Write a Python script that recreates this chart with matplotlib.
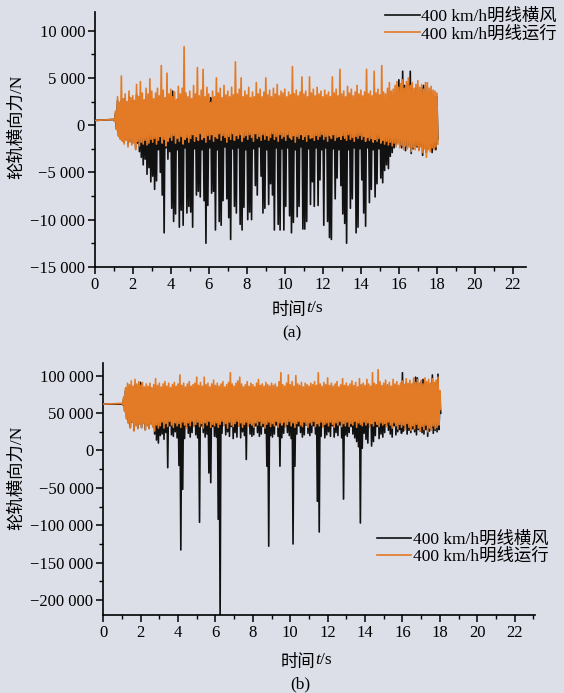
import numpy as np
import matplotlib
matplotlib.use('Agg')
import matplotlib.pyplot as plt
from matplotlib.ticker import MultipleLocator, FuncFormatter

plt.rcParams['font.family'] = ['Liberation Serif', 'Noto Sans CJK SC']
plt.rcParams['axes.unicode_minus'] = True

# sample times: t=0, then 1.0 ... 18.0 s every 0.1 s
t_start = [0.0]
t_run = np.round(np.arange(1.0, 18.05, 0.1), 1)
t = np.concatenate([t_start, t_run])

labels = ['400 km/h明线横风', '400 km/h明线运行']

# ---- (a) envelope values, N ----
run_hi_a = [500,
    600, 1500, 3000, 2400, 5200, 2800, 3300, 2500, 3600, 2900,
    3100, 2600, 4300, 3000, 4600, 3400, 2700, 3900, 3300, 4900,
    3600, 2800, 3400, 3900, 3100, 6300, 3700, 2900, 5500, 3300,
    3800, 3000, 3500, 2700, 4100, 3300, 3900, 8300, 3400, 3000,
    3600, 2800, 4200, 3300, 6100, 3100, 3700, 5900, 3000, 4000,
    3300, 2400, 3600, 3000, 5000, 3400, 3900, 2900, 4200, 3200,
    3600, 3000, 4000, 3200, 6700, 3300, 3800, 5000, 3000, 3600,
    3200, 4000, 2900, 3500, 3000, 4500, 3300, 3800, 3000, 3500,
    5000, 3200, 3700, 3000, 3900, 3300, 4300, 3100, 3600, 3400,
    3800, 3000, 3500, 3200, 6200, 3300, 3700, 3100, 3500, 5100,
    3300, 3600, 3000, 5100, 3400, 3800, 3100, 4000, 3300, 3600,
    3000, 3700, 3200, 3500, 3000, 5100, 3400, 3800, 3100, 5900,
    3300, 3600, 3000, 4100, 3400, 3800, 3100, 3500, 4200, 3300,
    3700, 3100, 3500, 5900, 3300, 3600, 3100, 5700, 3400, 3800,
    3200, 6300, 3500, 3300, 3900, 4500, 3600, 3800, 4200, 4600,
    4000, 4400, 4800, 3900, 4600, 5000, 4200, 4500, 3900, 4300,
    4700, 4000, 4300, 3800, 4500, 4500, 3900, 4100, 3700, 3600,
    3400]
run_lo_a = [500,
    400, -500, -1200, -1500, -1700, -2000, -1600, -2300, -1800, -2100,
    -1900, -2600, -1700, -2200, -1800, -2000, -1600, -2100, -1900, -1500,
    -1800, -1400, -2000, -1600, -1200, -1900, -1500, -2200, -1700, -1300,
    -1600, -1100, -1900, -1400, -1700, -1200, -2000, -1500, -1300, -1800,
    -1400, -1000, -1700, -1200, -1600, -900, -1500, -1300, -1800, -1100,
    -1500, -1000, -1700, -1200, -1400, -900, -1600, -1100, -1300, -1800,
    -1200, -1500, -900, -1600, -1100, -1400, -1000, -1700, -1300, -1100,
    -1500, -1000, -1300, -1700, -900, -1400, -1200, -1600, -1000, -1500,
    -1100, -1600, -1300, -900, -1500, -1200, -1700, -1000, -1400, -1200,
    -1600, -1000, -1300, -1500, -1100, -1800, -1200, -1400, -1000, -1500,
    -1200, -1700, -1000, -1400, -1300, -1600, -1100, -1500, -1200, -1000,
    -1500, -1200, -1700, -1100, -1400, -1000, -1600, -1300, -1200, -1500,
    -1100, -1400, -1600, -1000, -1500, -1300, -1700, -1200, -1400, -1100,
    -1500, -1200, -1700, -1300, -1600, -1400, -1800, -1500, -1700, -1400,
    -1900, -1600, -2000, -1700, -2100, -1800, -2200, -1900, -2300, -2000,
    -2400, -2100, -2600, -2200, -2500, -2300, -2800, -2400, -2600, -2200,
    -2700, -2300, -2900, -2500, -3400, -2600, -2800, -2400, -2600, -2300,
    -2000]
wind_hi_a = [500,
    600, 1300, 2600, 2000, 2600, 2400, 2800, 2100, 3000, 2500,
    2600, 2200, 3200, 2500, 3000, 2700, 2300, 3000, 2600, 2800,
    2500, 2200, 2600, 2800, 2400, 2700, 2600, 2300, 2900, 2500,
    2600, 3600, 2500, 2300, 2800, 2600, 2700, 2900, 2500, 2400,
    2400, 2300, 2700, 2500, 2600, 2400, 2800, 2600, 2300, 2700,
    2500, 2900, 2600, 2400, 2600, 2500, 2700, 2400, 2600, 2500,
    2300, 2400, 2200, 2500, 2300, 2100, 2200, 2500, 2300, 2400,
    2200, 2500, 2300, 2000, 2200, 2500, 2300, 2400, 2100, 2500,
    2300, 2400, 2200, 2500, 2100, 2400, 2200, 2500, 2300, 2000,
    2200, 2500, 2300, 2400, 2200, 2300, 2300, 2100, 2200, 2500,
    2300, 2000, 2200, 2500, 2300, 2400, 2200, 2500, 2100, 2400,
    2200, 2500, 2300, 2400, 2200, 2100, 2300, 2400, 2200, 2500,
    2300, 2400, 2100, 2500, 2300, 2400, 2200, 2300, 2300, 2400,
    2200, 2500, 2300, 2400, 2000, 2500, 2300, 2400, 2200, 2500,
    2300, 2400, 2200, 2500, 2300, 2400, 2800, 2600, 3000, 2900,
    4800, 3900, 5700, 4200, 3600, 4400, 5700, 3800, 3400, 3900,
    3500, 3300, 4000, 4200, 3200, 3000, 3300, 3600, 2900, 3000,
    3000]
wind_lo_a = [500,
    400, -400, -1100, -1400, -1600, -1800, -1500, -2000, -1700, -1900,
    -1800, -2300, -1900, -2800, -3400, -4200, -3600, -5200, -4500, -6000,
    -5400, -6800, -5900, -2600, -5000, -7400, -11400, -2400, -3600, -2800,
    -8800, -10200, -9400, -2600, -10800, -9000, -10600, -2400, -9300, -8600,
    -9200, -10800, -2500, -7400, -7000, -7600, -2600, -8000, -12500, -8500,
    -2400, -7200, -7000, -11100, -2600, -10200, -10600, -8000, -2300, -7800,
    -9800, -12100, -2500, -8600, -9300, -2400, -10500, -11100, -8700, -2600,
    -10000, -9200, -10000, -2500, -6400, -7400, -2300, -5400, -9300, -8800,
    -2600, -8400, -6200, -7400, -11100, -2400, -10500, -11100, -2500, -11100,
    -8600, -2400, -9600, -11400, -10300, -2600, -9700, -8600, -2300, -11000,
    -11000, -10200, -2500, -8400, -6000, -8600, -2400, -8500, -5800, -2600,
    -10600, -2400, -10200, -11900, -12100, -2500, -7800, -5600, -2600, -6400,
    -9400, -10400, -12500, -2600, -8800, -7800, -2400, -11400, -10800, -2500,
    -5800, -9300, -10700, -2400, -8200, -6800, -2600, -7600, -6200, -2500,
    -5600, -6100, -4800, -4200, -4600, -3300, -2900, -2400, -2000, -1800,
    -2200, -2400, -2000, -2700, -2300, -2100, -3000, -2500, -2200, -2300,
    -2600, -2200, -3200, -2400, -2900, -2500, -2100, -2900, -2400, -2600,
    -1500]

# ---- (b) envelope values, kN ----
run_hi_b = [62,
    63, 72, 84, 90, 88, 93, 86, 95, 89, 92,
    87, 91, 85, 89, 86, 90, 84, 88, 96, 87,
    90, 85, 89, 92, 86, 90, 84, 88, 91, 86,
    89, 101, 87, 90, 85, 89, 92, 86, 88, 90,
    98, 87, 91, 86, 98, 88, 90, 85, 89, 94,
    87, 90, 86, 89, 92, 85, 88, 91, 104, 89,
    86, 90, 93, 98, 89, 85, 88, 92, 86, 90,
    88, 85, 90, 95, 87, 89, 86, 91, 88, 86,
    90, 87, 89, 85, 92, 104, 88, 86, 90, 101,
    88, 92, 86, 100, 89, 87, 91, 85, 90, 88,
    86, 90, 88, 92, 87, 104, 89, 86, 91, 88,
    97, 87, 90, 86, 89, 92, 85, 88, 96, 87,
    90, 86, 89, 93, 87, 91, 85, 96, 88, 90,
    87, 95, 89, 86, 104, 90, 88, 108, 92, 87,
    90, 94, 88, 91, 86, 95, 89, 92, 87, 90,
    93, 88, 96, 90, 94, 89, 97, 91, 95, 90,
    94, 89, 97, 92, 95, 90, 96, 91, 94, 98,
    80]
run_lo_b = [62,
    61, 52, 42, 36, 30, 38, 26, 33, 29, 35,
    30, 36, 27, 33, 29, 35, 31, 26, 34, 30,
    33, 38, 30, 36, 32, 39, 34, 31, 37, 33,
    36, 31, 38, 34, 30, 37, 33, 39, 32, 35,
    38, 32, 36, 30, 37, 34, 39, 31, 35, 33,
    37, 31, 35, 39, 33, 36, 30, 38, 34, 32,
    36, 39, 33, 37, 31, 35, 38, 32, 36, 34,
    31, 37, 34, 39, 33, 36, 30, 35, 38, 32,
    36, 33, 39, 31, 37, 34, 38, 32, 35, 39,
    33, 37, 31, 36, 39, 34, 32, 38, 35, 31,
    37, 34, 39, 32, 36, 33, 38, 31, 35, 37,
    33, 38, 35, 31, 37, 34, 39, 32, 36, 33,
    38, 32, 36, 34, 39, 31, 37, 35, 33, 38,
    34, 37, 31, 36, 33, 39, 35, 32, 37, 34,
    36, 32, 38, 34, 30, 37, 33, 29, 35, 31,
    34, 28, 36, 31, 27, 33, 29, 35, 30, 26,
    32, 28, 34, 25, 30, 27, 33, 29, 31, 34,
    55]
wind_hi_b = [62,
    62, 70, 80, 84, 82, 86, 80, 88, 84, 86,
    91, 84, 80, 83, 81, 84, 79, 82, 85, 81,
    80, 78, 82, 79, 81, 80, 83, 78, 81, 79,
    82, 80, 78, 81, 79, 83, 80, 78, 82, 80,
    79, 81, 83, 78, 80, 82, 79, 81, 80, 78,
    81, 79, 80, 82, 78, 80, 83, 79, 81, 80,
    78, 82, 80, 79, 81, 78, 80, 83, 79, 81,
    80, 78, 81, 82, 79, 80, 78, 81, 80, 79,
    82, 80, 79, 78, 81, 83, 80, 78, 82, 80,
    79, 81, 78, 80, 82, 79, 81, 78, 80, 82,
    80, 79, 81, 83, 78, 80, 82, 79, 81, 80,
    83, 78, 80, 79, 81, 82, 78, 80, 83, 79,
    81, 79, 80, 82, 78, 81, 79, 83, 80, 81,
    79, 82, 80, 78, 81, 80, 79, 83, 81, 80,
    82, 80, 79, 81, 78, 82, 80, 81, 79, 82,
    104, 85, 90, 86, 88, 84, 91, 98, 97, 85,
    92, 95, 90, 86, 88, 85, 101, 88, 90, 102,
    62]
wind_lo_b = [62,
    61, 53, 43, 37, 31, 38, 27, 34, 30, 36,
    31, 37, 28, 34, 30, 36, 32, 22, 14, 10,
    20, 22, 15, 24, -23, 33, 21, 19, 25, 17,
    -20, -133, -52, 16, 32, 23, 18, 24, 33, 21,
    17, -96, 33, 24, 18, 22, -30, -43, 32, 19,
    18, -92, -225, 23, 34, 21, 25, 19, 32, 16,
    24, 18, 33, 17, 25, 20, -12, 33, 22, 19,
    21, 33, 24, 19, 22, 32, 23, -21, -128, 20,
    18, 22, 34, 19, -21, 17, 23, 32, 24, 20,
    16, -125, -21, 22, 33, 24, 18, 21, 34, 23,
    20, 24, 33, 22, -68, -109, 19, 32, 17, 21,
    25, 19, 33, 18, 24, 20, 34, 17, -65, 21,
    19, 24, 32, 22, 17, 12, 5, -97, 3, 23,
    15, 10, 33, 6, 12, 20, 32, 16, 22, 18,
    24, 34, 27, 22, 18, 33, 21, 25, 28, 23,
    26, 30, 22, 27, 24, 29, 25, 21, 28, 26,
    24, 22, 28, 19, 26, 30, 23, 27, 25, 28,
    50]

BLACK = '#111111'
ORANGE = '#e27a26'
BG = '#dcdee8'
LW = 1.2
FS = 12.5


def zigzag(tt, hi, lo):
    # alternate peak / trough so the dense trace fills in like the scan
    x = np.empty(2 * len(tt))
    y = np.empty(2 * len(tt))
    x[0::2] = tt
    x[1::2] = tt + 0.05
    y[0::2] = hi
    y[1::2] = lo
    return x, y


def sep_fmt(v, pos):
    s = f'{abs(int(round(v))):,}'.replace(',', ' ')
    return ('\u2212' + s) if v < 0 else s


def style_axes(ax):
    ax.set_facecolor(BG)
    for s in ['top', 'right']:
        ax.spines[s].set_visible(False)
    for s in ['left', 'bottom']:
        ax.spines[s].set_linewidth(1.2)
    ax.tick_params(which='major', direction='out', length=5, width=1.1, labelsize=12, pad=2)
    ax.tick_params(which='minor', direction='out', length=3, width=1.0)
    ax.xaxis.set_major_locator(MultipleLocator(2))
    ax.xaxis.set_minor_locator(MultipleLocator(1))
    ax.yaxis.set_major_formatter(FuncFormatter(sep_fmt))


fig = plt.figure(figsize=(5.64, 6.93), dpi=100)
fig.patch.set_facecolor(BG)

# (a)
ax1 = fig.add_axes([0.168, 0.615, 0.765, 0.368])
style_axes(ax1)
x, y = zigzag(t, wind_hi_a, wind_lo_a)
l1, = ax1.plot(x, y, color=BLACK, lw=LW, zorder=2)
x, y = zigzag(t, run_hi_a, run_lo_a)
l2, = ax1.plot(x, y, color=ORANGE, lw=LW, zorder=3)
ax1.set_xlim(0, 22.7)
ax1.set_ylim(-15000, 12000)
ax1.yaxis.set_major_locator(MultipleLocator(5000))
ax1.yaxis.set_minor_locator(MultipleLocator(2500))
ax1.legend([l1, l2], labels, loc='upper right', bbox_to_anchor=(1.0, 0.997),
           bbox_transform=fig.transFigure, frameon=False, fontsize=FS,
           handlelength=2.0, handletextpad=0.1, labelspacing=0.05, borderaxespad=0)

# (b)
ax2 = fig.add_axes([0.183, 0.1126, 0.766, 0.3636])
style_axes(ax2)
x, y = zigzag(t, np.array(wind_hi_b) * 1000, np.array(wind_lo_b) * 1000)
m1, = ax2.plot(x, y, color=BLACK, lw=LW, zorder=2)
x, y = zigzag(t, np.array(run_hi_b) * 1000, np.array(run_lo_b) * 1000)
m2, = ax2.plot(x, y, color=ORANGE, lw=LW, zorder=3)
ax2.set_xlim(0, 23.1)
ax2.set_ylim(-220000, 117000)
ax2.yaxis.set_major_locator(MultipleLocator(50000))
ax2.yaxis.set_minor_locator(MultipleLocator(25000))
ax2.legend([m1, m2], labels, loc='upper right', bbox_to_anchor=(0.985, 0.243),
           bbox_transform=fig.transFigure, frameon=False, fontsize=FS,
           handlelength=2.0, handletextpad=0.1, labelspacing=0.05, borderaxespad=0)

# labels
fig.canvas.draw()
renderer = fig.canvas.get_renderer()
CJK_DROP = 3.5 / 693   # the fallback CJK piece sits a little high on its own


def time_label(xc, y):
    # "时间" + italic t + "/s" on one line, centred on xc
    parts = [('时间', 'normal', -CJK_DROP), ('t', 'italic', 0), ('/s', 'normal', 0)]
    texts = [fig.text(0, y + dy, s, fontsize=FS, style=st, va='baseline') for s, st, dy in parts]
    widths = [tx.get_window_extent(renderer).width / fig.bbox.width for tx in texts]
    x0 = xc - sum(widths) / 2
    for tx, w in zip(texts, widths):
        tx.set_x(x0)
        x0 += w


time_label(0.527, 0.550)
fig.text(0.518, 0.519, '(a)', ha='center', va='center', fontsize=FS)
time_label(0.543, 0.042)
fig.text(0.532, 0.013, '(b)', ha='center', va='center', fontsize=FS)
fig.text(0.030, 0.817, '轮轨横向力/N', rotation=90, ha='center', va='center', fontsize=FS)
fig.text(0.030, 0.310, '轮轨横向力/N', rotation=90, ha='center', va='center', fontsize=FS)

fig.savefig('out.png', dpi=100, facecolor=BG)
